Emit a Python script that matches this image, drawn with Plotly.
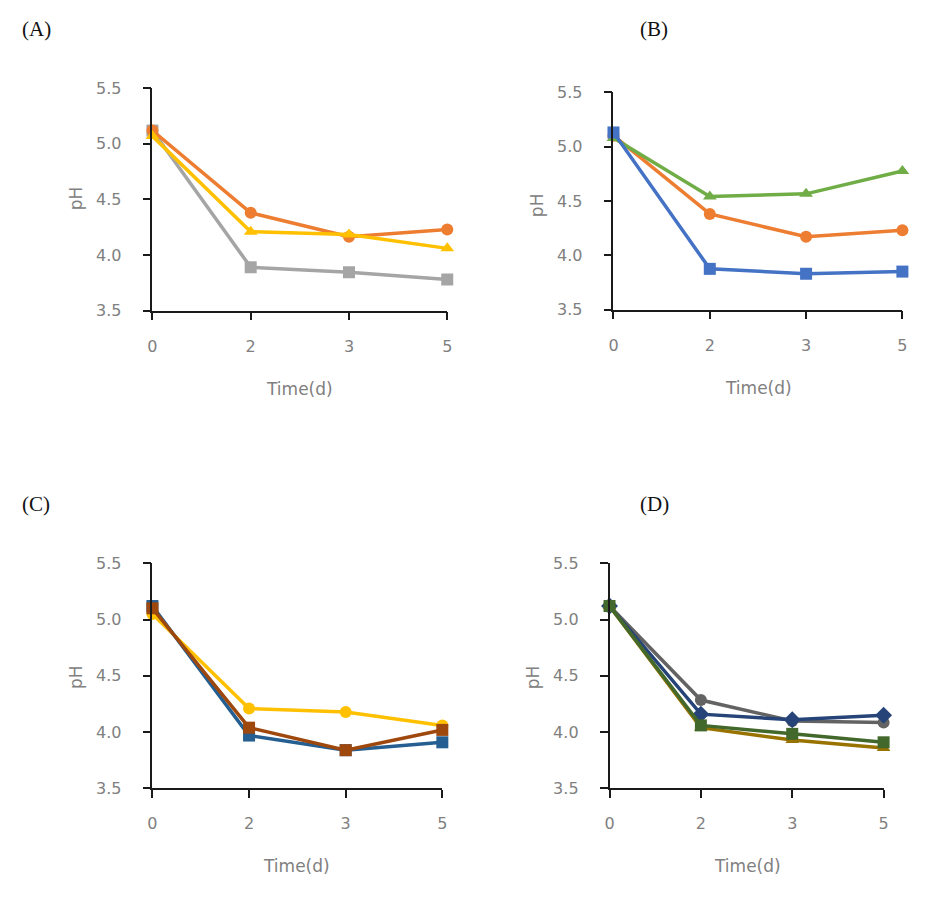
import plotly.graph_objects as go

days = ["0", "2", "3", "5"]
yticks = [3.5, 4.0, 4.5, 5.0, 5.5]

# Panel A
a_gray = [5.12, 3.89, 3.845, 3.78]
a_orange = [5.12, 4.38, 4.165, 4.23]
a_yellow = [5.07, 4.21, 4.185, 4.06]
# Panel B
b_orange = [5.10, 4.38, 4.17, 4.23]
b_green = [5.08, 4.54, 4.565, 4.775]
b_blue = [5.13, 3.875, 3.83, 3.85]
# Panel C
c_yellow = [5.05, 4.21, 4.18, 4.06]
c_blue = [5.12, 3.97, 3.84, 3.91]
c_brown = [5.10, 4.04, 3.84, 4.02]
# Panel D
d_gray = [5.12, 4.285, 4.10, 4.085]
d_blue = [5.12, 4.16, 4.11, 4.15]
d_yellow = [5.12, 4.04, 3.93, 3.86]
d_green = [5.12, 4.06, 3.985, 3.91]

panels = [
    ("A", [(a_gray, "#A5A5A5", "square"), (a_orange, "#ED7D31", "circle"), (a_yellow, "#FFC000", "triangle-up")]),
    ("B", [(b_orange, "#ED7D31", "circle"), (b_green, "#70AD47", "triangle-up"), (b_blue, "#4472C4", "square")]),
    ("C", [(c_yellow, "#FFC000", "circle"), (c_blue, "#255E91", "square"), (c_brown, "#9E480E", "square")]),
    ("D", [(d_gray, "#636363", "circle"), (d_blue, "#264478", "diamond"), (d_yellow, "#997300", "triangle-up"), (d_green, "#43682B", "square")]),
]

W, H = 944, 915
# plot-area pixel boxes (left, right, top, bottom)
boxes = {
    "A": (149, 447, 81, 308),
    "B": (615, 907, 85, 307),
    "C": (149, 442, 566, 796),
    "D": (611, 888, 566, 796),
}
panel_label_pos = {"A": (15, 20), "B": (640, 20), "C": (15, 505), "D": (640, 505)}
ph_pos = {"A": (72, 193), "B": (538, 200), "C": (72, 682), "D": (533, 682)}
time_pos = {"A": (298, 388), "B": (762, 387), "C": (295, 875), "D": (750, 875)}

fig = go.Figure()
annotations = []
for i, (name, series) in enumerate(panels):
    idx = "" if i == 0 else str(i + 1)
    xa, ya = "x" + idx, "y" + idx
    for vals, color, sym in series:
        fig.add_trace(go.Scatter(
            x=list(range(len(days))), y=vals, xaxis=xa, yaxis=ya,
            mode="lines+markers", cliponaxis=False, showlegend=False,
            line=dict(color=color, width=3.5),
            marker=dict(color=color, symbol=sym, size=12 if sym != "diamond" else 13),
        ))
    l, r, t, b = boxes[name]
    axis_common = dict(showline=True, linecolor="#1a1a1a", linewidth=1.5, ticks="outside",
                       ticklen=8, tickcolor="#1a1a1a", tickwidth=1.5, showgrid=False, zeroline=False,
                       tickfont=dict(family="DejaVu Sans", size=16, color="#808080"))
    fig.update_layout(**{
        "xaxis" + idx: dict(domain=[l / W, r / W], range=[0, 3], anchor=ya,
                            tickvals=list(range(len(days))), ticktext=days,
                            ticklabelstandoff=12, **axis_common),
        "yaxis" + idx: dict(domain=[1 - b / H, 1 - t / H], range=[3.5, 5.5], anchor=xa,
                            tickvals=yticks, ticktext=[f"{v:.1f}" for v in yticks],
                            ticklabelstandoff=18, **axis_common),
    })
    px, py = panel_label_pos[name]
    annotations.append(dict(x=px / W, y=1 - py / H, xref="paper", yref="paper", xanchor="left",
                            yanchor="middle", text=f"({name})", showarrow=False,
                            font=dict(family="Liberation Serif", size=21, color="#111")))
    hx, hy = ph_pos[name]
    annotations.append(dict(x=hx / W, y=1 - hy / H, xref="paper", yref="paper", textangle=-90,
                            xanchor="center", yanchor="middle",
                            text="pH", showarrow=False,
                            font=dict(family="DejaVu Sans", size=17, color="#808080")))
    tx, ty = time_pos[name]
    annotations.append(dict(x=tx / W, y=1 - ty / H, xref="paper", yref="paper",
                            xanchor="center", yanchor="middle",
                            text="Time(d)", showarrow=False,
                            font=dict(family="DejaVu Sans", size=17, color="#808080")))

fig.update_layout(width=W, height=H, margin=dict(l=0, r=0, t=0, b=0),
                  paper_bgcolor="white", plot_bgcolor="white", annotations=annotations)
fig.write_html("out.html")
